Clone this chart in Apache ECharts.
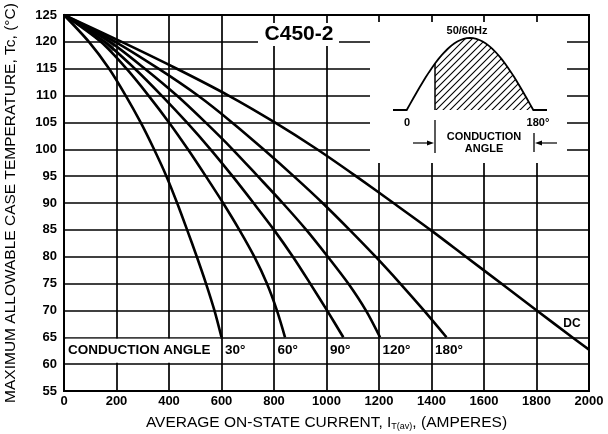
<!DOCTYPE html>
<html><head><meta charset="utf-8">
<script src="https://cdn.jsdelivr.net/npm/echarts@6/dist/echarts.min.js"></script>
<style>html,body{margin:0;padding:0;background:#fff}#c{width:608px;height:434px}</style>
</head><body><div id="c"></div>
<script>
// ---- data ----
const xTicks = [0,200,400,600,800,1000,1200,1400,1600,1800,2000];
const yTicks = [55,60,65,70,75,80,85,90,95,100,105,110,115,120,125];
const angleNames = ['30°','60°','90°','120°','180°'];
const angleLabelAt = [600,800,1000,1200,1400];
const curve30 = [[0,125],[95,120],[172,115],[235,110],[292,105],[343,100],[390,95],[431,90],[469,85],[506,80],[541,75],[573,70],[600,65]];
const curve60 = [[0,125],[140,120],[238,115],[322,110],[400,105],[472,100],[540,95],[606,90],[668,85],[725,80],[773,75],[811,70],[842,65]];
const curve90 = [[0,125],[155,120],[270,115],[372,110],[468,105],[558,100],[642,95],[722,90],[800,85],[872,80],[938,75],[1002,70],[1064,65]];
const curve120 = [[0,125],[175,120],[308,115],[430,110],[539,105],[642,100],[738,95],[833,90],[923,85],[1005,80],[1083,75],[1150,70],[1204,65]];
const curve180 = [[0,125],[195,120],[360,115],[510,110],[640,105],[760,100],[875,95],[985,90],[1088,85],[1187,80],[1281,75],[1371,70],[1457,65]];
const curveDC = [[0,125],[220,120],[430,115],[627,110],[803,105],[964,100],[1112,95],[1255,90],[1396,85],[1531,80],[1666,75],[1801,70],[1936,65],[2000,62.7]];
const curves = [curve30,curve60,curve90,curve120,curve180,curveDC];
const curveNames = ['30°','60°','90°','120°','180°','DC'];

const FONT = 'Liberation Sans, Arial, sans-serif';
const chart = echarts.init(document.getElementById('c'), null, {renderer:'canvas'});
const axisCommon = {
  type:'value',
  axisLine:{show:true,onZero:false,lineStyle:{color:'#000',width:2}},
  axisTick:{show:false},
  splitLine:{show:true,lineStyle:{color:'#000',width:1.7}},
  nameLocation:'middle'
};
chart.setOption({
  animation:false,
  backgroundColor:'#fff',
  grid:{left:64,top:15,width:525,height:376,show:true,borderColor:'#000',borderWidth:2,
        containLabel:false,outerBoundsMode:'none'},
  xAxis:Object.assign({},axisCommon,{
    min:xTicks[0],max:xTicks[xTicks.length-1],interval:200,
    axisLabel:{color:'#000',fontSize:13,fontWeight:'bold',fontFamily:FONT,margin:4,formatter:v=>String(v)},
    name:'AVERAGE ON-STATE CURRENT, I{s|T(av)}, (AMPERES)',
    nameGap:23,
    nameTextStyle:{color:'#000',fontSize:15.5,fontFamily:FONT,
      rich:{s:{fontSize:9,fontFamily:FONT,color:'#000',padding:[8,0,0,0]}}}
  }),
  yAxis:Object.assign({},axisCommon,{
    min:yTicks[0],max:yTicks[yTicks.length-1],interval:5,
    axisLabel:{color:'#000',fontSize:13,fontWeight:'bold',fontFamily:FONT,margin:7,formatter:v=>String(v)},
    name:'MAXIMUM ALLOWABLE CASE TEMPERATURE, Tc, (°C)',
    nameGap:45,
    nameTextStyle:{color:'#000',fontSize:15.5,fontFamily:FONT}
  }),
  series:curves.map((c,i)=>({
    type:'line',name:curveNames[i],data:c,showSymbol:false,smooth:0.3,
    lineStyle:{color:'#000',width:2.6},z:3,silent:true
  }))
});

// ---- annotations ----
const P = (x,y)=>chart.convertToPixel({gridIndex:0},[x,y]);
const g = [];
// bundle shading near origin
const bandTop = [[0,125],[100,122.7],[200,120.4]];
const bandBot = [[185,118.2],[90,121.8],[0,125]];
g.push({type:'polygon',z:2,shape:{points:bandTop.concat(bandBot).map(p=>P(p[0],p[1]))},style:{fill:'#666'}});

// bottom label row
const r1 = P(0,65), r2 = P(600,60);
g.push({type:'rect',z:5,shape:{x:r1[0]+1.5,y:r1[1]+1.5,width:r2[0]-r1[0]-3,height:r2[1]-r1[1]-3},style:{fill:'#fff'}});
const rowY = (r1[1]+r2[1])/2;
g.push({type:'text',z:10,x:r1[0]+4,y:rowY,style:{text:'CONDUCTION ANGLE',font:'bold 13.5px '+FONT,fill:'#000',verticalAlign:'middle',align:'left'}});
angleNames.forEach((t,i)=>{
  const p = P(angleLabelAt[i],62.5);
  g.push({type:'text',z:10,x:p[0]+3.5,y:rowY,style:{text:t,font:'bold 13.5px '+FONT,fill:'#000',verticalAlign:'middle',align:'left'}});
});
// DC label
const dcp = P(1935,67.6);
g.push({type:'text',z:10,x:dcp[0],y:dcp[1],style:{text:'DC',font:'bold 12px '+FONT,fill:'#000',verticalAlign:'middle',align:'center'}});

// C450-2 title
g.push({type:'rect',z:5,shape:{x:258,y:23,width:81,height:23},style:{fill:'#fff'}});
g.push({type:'text',z:10,x:299,y:34.5,style:{text:'C450-2',font:'bold 21px '+FONT,fill:'#000',align:'center',verticalAlign:'middle'}});

// inset box
g.push({type:'rect',z:5,shape:{x:370,y:22,width:197,height:141},style:{fill:'#fff'}});
g.push({type:'text',z:10,x:467,y:31,style:{text:'50/60Hz',font:'bold 11px '+FONT,fill:'#000',align:'center',verticalAlign:'middle'}});
// waveform (schematic half cycle)
const x0=406.7, x1=533.3, base=110, amp=72, xc=435;
const wave=[];
for(let k=0;k<=40;k++){const f=k/40; wave.push([x0+(x1-x0)*f, base-amp*Math.sin(Math.PI*f)]);}
const hatch=document.createElement('canvas'); hatch.width=7; hatch.height=7;
const hc=hatch.getContext('2d'); hc.strokeStyle='#000'; hc.lineWidth=1.1;
hc.beginPath(); hc.moveTo(-1,8); hc.lineTo(8,-1); hc.moveTo(-1,1); hc.lineTo(1,-1); hc.moveTo(6,8); hc.lineTo(8,6); hc.stroke();
const shaded=[[xc,base]].concat(wave.filter(p=>p[0]>=xc)).concat([[x1,base]]);
const fc=(xc-x0)/(x1-x0);
shaded.splice(1,0,[xc,base-amp*Math.sin(Math.PI*fc)]);
g.push({type:'polygon',z:8,shape:{points:shaded},style:{fill:{image:hatch,repeat:'repeat'},stroke:null}});
g.push({type:'polyline',z:9,shape:{points:[[393,base]].concat(wave).concat([[547,base]])},style:{stroke:'#000',lineWidth:1.8,fill:null}});
g.push({type:'line',z:9,shape:{x1:xc,y1:base-amp*Math.sin(Math.PI*fc),x2:xc,y2:base},style:{stroke:'#000',lineWidth:1.5}});
g.push({type:'text',z:10,x:407,y:123,style:{text:'0',font:'bold 11px '+FONT,fill:'#000',align:'center',verticalAlign:'middle'}});
g.push({type:'text',z:10,x:538,y:123,style:{text:'180°',font:'bold 11px '+FONT,fill:'#000',align:'center',verticalAlign:'middle'}});
g.push({type:'text',z:10,x:484,y:136.5,style:{text:'CONDUCTION',font:'bold 11px '+FONT,fill:'#000',align:'center',verticalAlign:'middle'}});
g.push({type:'text',z:10,x:484,y:148.5,style:{text:'ANGLE',font:'bold 11px '+FONT,fill:'#000',align:'center',verticalAlign:'middle'}});
g.push({type:'line',z:9,shape:{x1:435,y1:120,x2:435,y2:153},style:{stroke:'#000',lineWidth:1.3}});
g.push({type:'line',z:9,shape:{x1:534,y1:133,x2:534,y2:152},style:{stroke:'#000',lineWidth:1.3}});
g.push({type:'line',z:9,shape:{x1:413,y1:143,x2:430,y2:143},style:{stroke:'#000',lineWidth:1.2}});
g.push({type:'polygon',z:9,shape:{points:[[434,143],[427,140.5],[427,145.5]]},style:{fill:'#000'}});
g.push({type:'line',z:9,shape:{x1:539,y1:143,x2:557,y2:143},style:{stroke:'#000',lineWidth:1.2}});
g.push({type:'polygon',z:9,shape:{points:[[535,143],[542,140.5],[542,145.5]]},style:{fill:'#000'}});

chart.setOption({graphic:g});
</script></body></html>
